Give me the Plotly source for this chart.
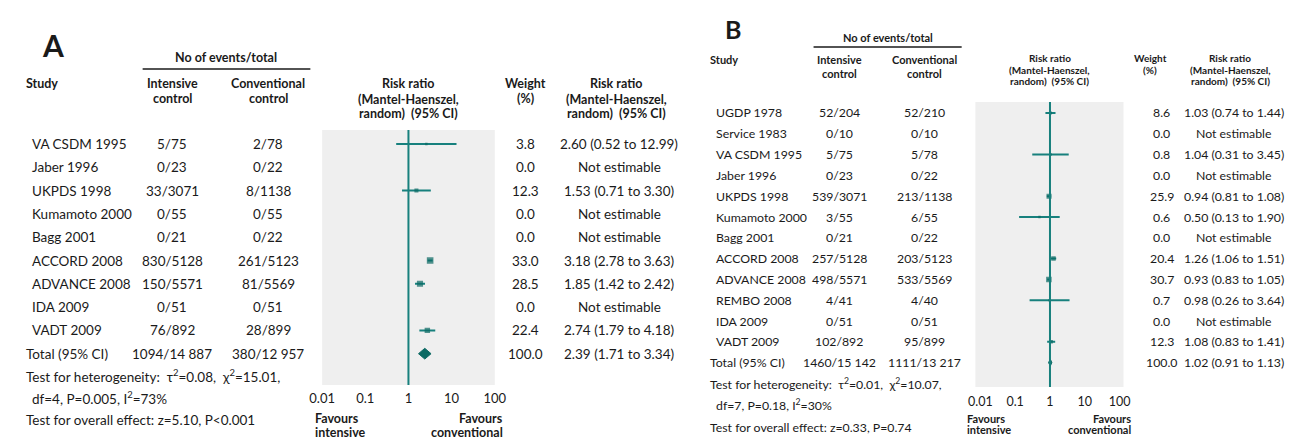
import plotly.graph_objects as go

# ---------------- data ----------------
a_studies = ["VA CSDM 1995", "Jaber 1996", "UKPDS 1998", "Kumamoto 2000", "Bagg 2001",
             "ACCORD 2008", "ADVANCE 2008", "IDA 2009", "VADT 2009"]
a_intensive = ["5/75", "0/23", "33/3071", "0/55", "0/21", "830/5128", "150/5571", "0/51", "76/892"]
a_conventional = ["2/78", "0/22", "8/1138", "0/55", "0/22", "261/5123", "81/5569", "0/51", "28/899"]
a_weight = [3.8, 0.0, 12.3, 0.0, 0.0, 33.0, 28.5, 0.0, 22.4]
a_rr = [2.60, None, 1.53, None, None, 3.18, 1.85, None, 2.74]
a_lo = [0.52, None, 0.71, None, None, 2.78, 1.42, None, 1.79]
a_hi = [12.99, None, 3.30, None, None, 3.63, 2.42, None, 4.18]
a_total = {"int": "1094/14 887", "conv": "380/12 957", "weight": 100.0, "rr": 2.39, "lo": 1.71, "hi": 3.34}
a_notes = ["Test for heterogeneity:  τ<sup>2</sup>=0.08,  χ<sup>2</sup>=15.01,",
           "df=4, P=0.005, I<sup>2</sup>=73%",
           "Test for overall effect: z=5.10, P<0.001"]

b_studies = ["UGDP 1978", "Service 1983", "VA CSDM 1995", "Jaber 1996", "UKPDS 1998", "Kumamoto 2000",
             "Bagg 2001", "ACCORD 2008", "ADVANCE 2008", "REMBO 2008", "IDA 2009", "VADT 2009"]
b_intensive = ["52/204", "0/10", "5/75", "0/23", "539/3071", "3/55", "0/21", "257/5128", "498/5571",
               "4/41", "0/51", "102/892"]
b_conventional = ["52/210", "0/10", "5/78", "0/22", "213/1138", "6/55", "0/22", "203/5123", "533/5569",
                  "4/40", "0/51", "95/899"]
b_weight = [8.6, 0.0, 0.8, 0.0, 25.9, 0.6, 0.0, 20.4, 30.7, 0.7, 0.0, 12.3]
b_rr = [1.03, None, 1.04, None, 0.94, 0.50, None, 1.26, 0.93, 0.98, None, 1.08]
b_lo = [0.74, None, 0.31, None, 0.81, 0.13, None, 1.06, 0.83, 0.26, None, 0.83]
b_hi = [1.44, None, 3.45, None, 1.08, 1.90, None, 1.51, 1.05, 3.64, None, 1.41]
b_total = {"int": "1460/15 142", "conv": "1111/13 217", "weight": 100.0, "rr": 1.02, "lo": 0.91, "hi": 1.13}
b_notes = ["Test for heterogeneity:  τ<sup>2</sup>=0.01,  χ<sup>2</sup>=10.07,",
           "df=7, P=0.18, I<sup>2</sup>=30%",
           "Test for overall effect: z=0.33, P=0.74"]

tick_vals = [0.01, 0.1, 1, 10, 100]
tick_text = ["0.01", "0.1", "1", "10", "100"]

# ---------------- layout helpers ----------------
# the page body has an 8px margin: the figure starts at (8, 8) inside the 1316x440 window
OFF = 8
W, H = 1316 - OFF, 440 - OFF
FONT = "Lato"
TXT = "#1a1a1a"
LINE = "#17807d"
MARK = "#0c6a64"


def px(x):
    return (x - OFF) / W


def py(y):
    return 1 - (y - OFF) / H


fig = go.Figure()
annotations = []
shapes = []


def txt(x, y, text, size, anchor="left", bold=False, yref="paper"):
    annotations.append(dict(
        x=px(x), y=(py(y) if yref == "paper" else y), xref="paper", yref=yref,
        text=("<b>%s</b>" % text) if bold else text, showarrow=False,
        xanchor=anchor, yanchor="middle",
        font=dict(family=FONT, size=size, color=TXT)))


def fmt_rr(r, lo, hi):
    if r is None:
        return "Not estimable"
    return "%.2f (%.2f to %.2f)" % (r, lo, hi)


def panel(cfg, studies, ints, convs, weights, rr, lo, hi, total, notes):
    xa, ya = cfg["xaxis"], cfg["yaxis"]
    yref = ya.replace("yaxis", "y")
    xref = xa.replace("xaxis", "x")
    n = len(studies)
    r0, dr = cfg["row0"], cfg["drow"]
    top, bot = cfg["plot_top"], cfg["plot_bot"]
    # y range so that row i sits at pixel r0 + dr*i
    y_top = (top - r0) / dr
    y_bot = (bot - r0) / dr
    fig.layout[xa] = dict(type="log", range=cfg["xrange"], domain=[px(cfg["plot_l"]), px(cfg["plot_r"])],
                          anchor=yref, tickvals=tick_vals, ticktext=tick_text, showgrid=False,
                          zeroline=False, showline=False, ticks="", ticklabelstandoff=cfg["tickstand"],
                          tickfont=dict(family=FONT, size=cfg["tick_size"], color=TXT), fixedrange=True)
    fig.layout[ya] = dict(range=[y_bot, y_top], domain=[py(bot), py(top)], anchor=xref,
                          visible=False, fixedrange=True)
    # null line
    shapes.append(dict(type="line", xref=xref, yref=yref + " domain", x0=1, x1=1, y0=0, y1=1,
                       line=dict(color=LINE, width=2), layer="above"))
    # CI segments
    xs, ys = [], []
    mx, my, ms = [], [], []
    for i in range(n):
        if rr[i] is None:
            continue
        xs += [lo[i], hi[i], None]
        ys += [i, i, None]
        mx.append(rr[i])
        my.append(i)
        ms.append(max(2.5, cfg["msize"] * weights[i] ** 0.5))
    fig.add_trace(go.Scatter(x=xs, y=ys, mode="lines", line=dict(color=LINE, width=2),
                             xaxis=xref, yaxis=yref, hoverinfo="skip"))
    fig.add_trace(go.Scatter(x=mx, y=my, mode="markers",
                             marker=dict(symbol="square", size=ms, color=MARK, line=dict(width=0)),
                             xaxis=xref, yaxis=yref))
    # diamond for total
    h = cfg["dia_h"]
    fig.add_trace(go.Scatter(x=[total["lo"], total["rr"], total["hi"], total["rr"], total["lo"]],
                             y=[n, n - h, n, n + h, n], mode="lines", fill="toself",
                             fillcolor=MARK, line=dict(color=MARK, width=1),
                             xaxis=xref, yaxis=yref))
    # row texts
    fs = cfg["row_size"]
    for i in range(n):
        txt(cfg["x_study"], i, studies[i], fs, "left", yref=yref)
        txt(cfg["x_int"], i, ints[i], fs, "center", yref=yref)
        txt(cfg["x_conv"], i, convs[i], fs, "center", yref=yref)
        txt(cfg["x_w"], i, "%.1f" % weights[i], fs, "center", yref=yref)
        txt(cfg["x_rr"], i, fmt_rr(rr[i], lo[i], hi[i]), fs, "center", yref=yref)
    txt(cfg["x_total"], n, "Total (95% CI)", fs, "left", yref=yref)
    txt(cfg["x_int"], n, total["int"], fs, "center", yref=yref)
    txt(cfg["x_conv"], n, total["conv"], fs, "center", yref=yref)
    txt(cfg["x_w"], n, "%.1f" % total["weight"], fs, "center", yref=yref)
    txt(cfg["x_rr"], n, fmt_rr(total["rr"], total["lo"], total["hi"]), fs, "center", yref=yref)
    for k, note in enumerate(notes):
        xx = cfg["x_study"] if k == 1 else cfg["x_total"]
        txt(xx, cfg["note_y"][k], note, fs, "left")
    # headers
    hs = cfg["head_size"]
    hy = cfg["head_y"]
    txt(cfg["letter"][0], cfg["letter"][1], cfg["letter"][2], cfg["letter"][3], "center", bold=True)
    txt((cfg["ul"][0] + cfg["ul"][1]) / 2, cfg["noev_y"], "No of events/total", hs, "center", bold=True)
    shapes.append(dict(type="line", xref="paper", yref="paper", x0=px(cfg["ul"][0]), x1=px(cfg["ul"][1]),
                       y0=py(cfg["ul"][2]), y1=py(cfg["ul"][2]), line=dict(color=TXT, width=1.5)))
    txt(cfg["x_total"], hy[0], "Study", hs, "left", bold=True)
    txt(cfg["x_int"], hy[0], "Intensive", hs, "center", bold=True)
    txt(cfg["x_int"], hy[1], "control", hs, "center", bold=True)
    txt(cfg["x_conv"], hy[0], "Conventional", hs, "center", bold=True)
    txt(cfg["x_conv"], hy[1], "control", hs, "center", bold=True)
    txt(cfg["x_wh"], cfg["w_y"][0], "Weight", cfg["rrh_size"], "center", bold=True)
    txt(cfg["x_wh"], cfg["w_y"][1], "(%)", cfg["rrh_size"], "center", bold=True)
    for k, line in enumerate(["Risk ratio", "(Mantel-Haenszel,", "random)  (95% CI)"]):
        txt(cfg["x_rrh"], cfg["rr_y"][k], line, cfg["rrh_size"], "center", bold=True)
        txt(cfg["x_fh"], cfg["rr_y"][k], line, cfg["rrh_size"], "center", bold=True)
    txt(cfg["fav"][0], cfg["fav"][2], "Favours", hs, "left", bold=True)
    txt(cfg["fav"][0], cfg["fav"][3], "intensive", hs, "left", bold=True)
    txt(cfg["fav"][1], cfg["fav"][2], "Favours", hs, "right", bold=True)
    txt(cfg["fav"][1], cfg["fav"][3], "conventional", hs, "right", bold=True)


cfg_a = dict(xaxis="xaxis", yaxis="yaxis", row0=144, drow=23.3, plot_top=130, plot_bot=385,
             plot_l=315, plot_r=491, xrange=[-2, 2], tickstand=4, tick_size=13, msize=1.15, dia_h=0.23,
             row_size=13.5, head_size=12.5, rrh_size=12.5, x_study=17, x_total=11, x_int=162, x_conv=260,
             x_w=522, x_rr=618, x_wh=522, x_rrh=615, x_fh=403, note_y=[376, 398, 420], head_y=[83, 98],
             w_y=[83, 98], rr_y=[83, 99, 114], noev_y=58, ul=[132, 303, 69], letter=[41, 45, "A", 30],
             fav=[306, 501, 418, 432])
cfg_b = dict(xaxis="xaxis2", yaxis="yaxis2", row0=113, drow=20.8, plot_top=102, plot_bot=387,
             plot_l=981, plot_r=1132, xrange=[-2.14, 2.11], tickstand=5, tick_size=12.5, msize=1.0,
             dia_h=0.17, row_size=12.3, head_size=11, rrh_size=10, x_study=714, x_total=708, x_int=842,
             x_conv=929, x_w=1171, x_rr=1245, x_wh=1159, x_rrh=1241, x_fh=1057, note_y=[384, 405, 427],
             head_y=[60, 73], w_y=[58, 70], rr_y=[58, 69.5, 81], noev_y=37, ul=[816, 967, 47],
             letter=[734, 29, "B", 25], fav=[970, 1142, 418, 429])

panel(cfg_a, a_studies, a_intensive, a_conventional, a_weight, a_rr, a_lo, a_hi, a_total, a_notes)
panel(cfg_b, b_studies, b_intensive, b_conventional, b_weight, b_rr, b_lo, b_hi, b_total, b_notes)

fig.update_layout(width=W, height=H, margin=dict(l=0, r=0, t=0, b=0), showlegend=False,
                  paper_bgcolor="white", plot_bgcolor="#efefef",
                  font=dict(family=FONT, color=TXT), annotations=annotations, shapes=shapes)

fig.write_html("out.html")
